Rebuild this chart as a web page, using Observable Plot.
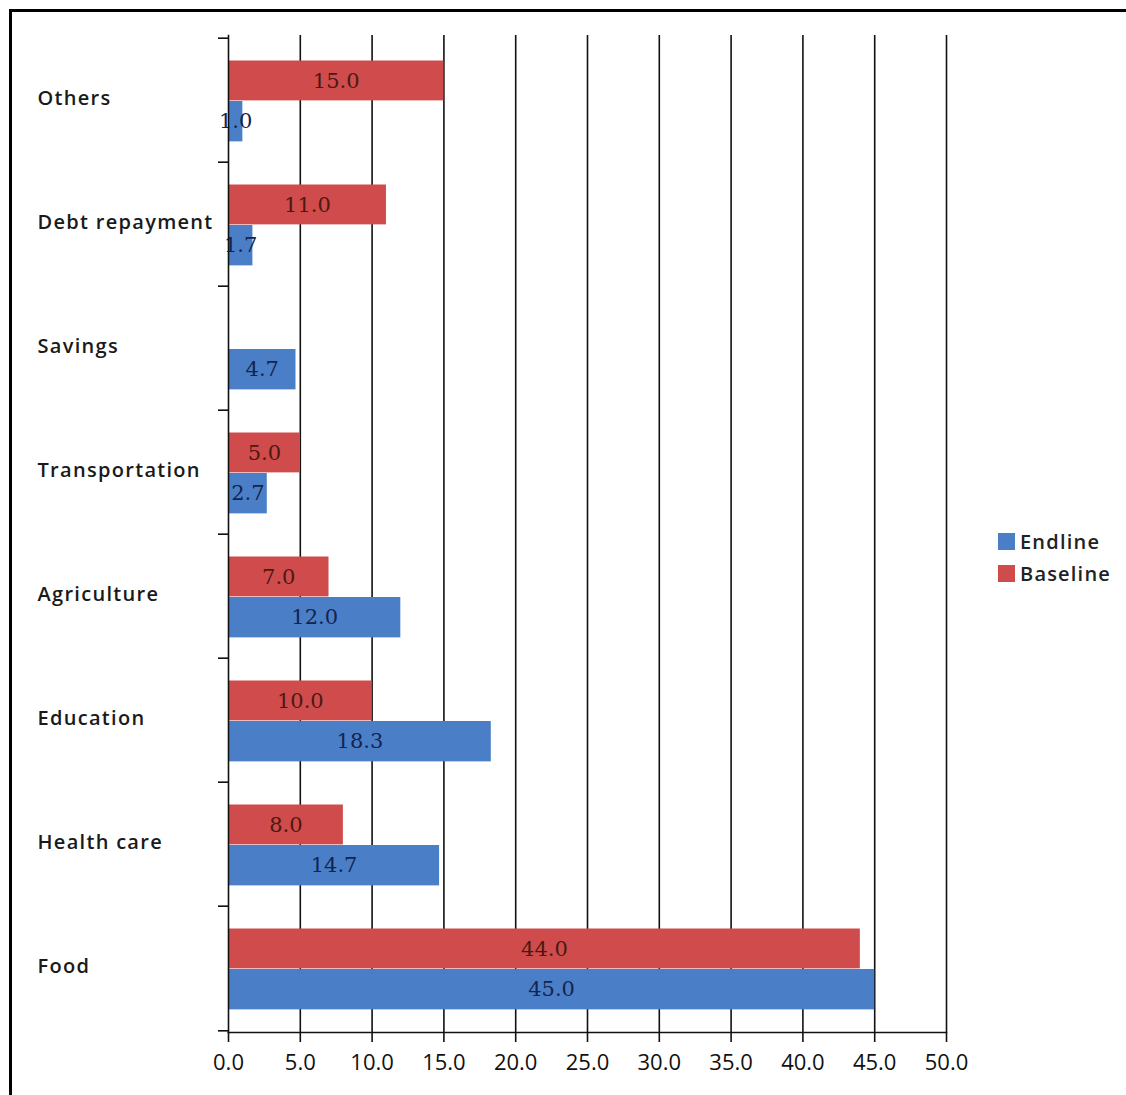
<!DOCTYPE html>
<html>
<head>
<meta charset="utf-8">
<script src="https://cdn.jsdelivr.net/npm/d3@7"></script>
<script src="https://cdn.jsdelivr.net/npm/@observablehq/plot@0.6"></script>
<style>
  html, body { margin: 0; padding: 0; background: #fff; }
  #wrap { position: relative; width: 1126px; height: 1095px; overflow: hidden; }
  #frame { position: absolute; left: 9px; top: 9px; right: -10px; bottom: -10px;
           border-left: 3px solid #000; border-top: 3px solid #000; pointer-events: none; }
  #legend { position: absolute; left: 998px; top: 525px; font-family: "Open Sans", sans-serif;
            font-size: 20px; font-weight: 600; color: #222; letter-spacing: 1.2px; }
  #legend div { display: flex; align-items: center; height: 32px; }
  #legend span.sw { display: inline-block; width: 17px; height: 17px; margin-right: 5px; }
  .cat-label text { letter-spacing: 1.3px; }
</style>
</head>
<body>
<div id="wrap">
  <div id="chart"></div>
  <div id="legend"></div>
  <div id="frame"></div>
</div>
<script>
// Spending categories, top to bottom
const categories = ["Others", "Debt repayment", "Savings", "Transportation",
                    "Agriculture", "Education", "Health care", "Food"];
// Share of spending (%) per survey round; Savings had no baseline value
const baseline = [15.0, 11.0, null, 5.0, 7.0, 10.0, 8.0, 44.0];
const endline  = [1.0, 1.7, 4.7, 2.7, 12.0, 18.3, 14.7, 45.0];
const series = ["Endline", "Baseline"];
const colors = {Endline: "#4a7fc8", Baseline: "#d04b4b"};
const xTicks = [0, 5, 10, 15, 20, 25, 30, 35, 40, 45, 50];

const W = 1126, H = 1095;
const mTop = 35, mBottom = 63, mLeft = 228, mRight = 180;
const band = (H - mTop - mBottom) / categories.length;

const baseRows = categories.map((c, i) => ({category: c, value: baseline[i], series: "Baseline"}))
  .filter(d => d.value != null);
const endRows = categories.map((c, i) => ({category: c, value: endline[i], series: "Endline"}));

const fmt = v => v.toFixed(1);
const font = "'Open Sans', sans-serif";
const valueFont = "'DejaVu Serif', serif";

const chart = Plot.plot({
  width: W,
  height: H,
  marginTop: mTop,
  marginBottom: mBottom,
  marginLeft: mLeft,
  marginRight: mRight,
  style: {fontFamily: font, background: "transparent", color: "#111"},
  x: {domain: [0, 50]},
  y: {domain: categories, padding: 0, axis: null},
  marks: [
    // vertical gridlines
    Plot.ruleX(xTicks.slice(1), {stroke: "#111", strokeWidth: 1.6}),
    // bars
    Plot.barX(baseRows, {x: "value", y: "category", fill: colors.Baseline,
      insetTop: 22.5, insetBottom: band - 63}),
    Plot.barX(endRows, {x: "value", y: "category", fill: colors.Endline,
      insetTop: 63, insetBottom: band - 104}),
    // value labels centred in each bar
    Plot.text(baseRows, {x: d => d.value / 2, y: "category", text: d => fmt(d.value),
      dy: (22.5 + 63) / 2 - band / 2, fill: "#4a1a12", fontSize: 21,
      fontFamily: valueFont}),
    Plot.text(endRows, {x: d => d.value / 2, y: "category", text: d => fmt(d.value),
      dy: (63 + 104) / 2 - band / 2, fill: "#14244e", fontSize: 21,
      fontFamily: valueFont}),
    // axis lines
    Plot.frame({anchor: "left", stroke: "#111", strokeWidth: 1.6}),
    Plot.frame({anchor: "bottom", stroke: "#111", strokeWidth: 1.6}),
    // category boundary ticks on the y axis
    Plot.ruleY(categories, {y: d => d, x1: 0, x2: 0, insetLeft: -10, dy: -band / 2,
      stroke: "#111", strokeWidth: 1.6}),
    Plot.ruleY(categories.slice(-1), {y: d => d, x1: 0, x2: 0, insetLeft: -10, dy: band / 2,
      stroke: "#111", strokeWidth: 1.6}),
    // category labels, left aligned
    Plot.text(categories, {y: d => d, frameAnchor: "left", dx: 37 - mLeft, dy: -2,
      textAnchor: "start", text: d => d, fontSize: 20, fontWeight: 600, fill: "#1a1a1a",
      className: "cat-label"}),
    Plot.axisX({ticks: xTicks, tickFormat: fmt, tickSize: 10, tickPadding: 12,
      fontSize: 22, stroke: "#111", strokeWidth: 1.6, fill: "#111", label: null})
  ]
});
document.getElementById("chart").appendChild(chart);

// legend
const legend = document.getElementById("legend");
for (const s of series) {
  const row = document.createElement("div");
  const sw = document.createElement("span");
  sw.className = "sw";
  sw.style.background = colors[s];
  row.appendChild(sw);
  row.appendChild(document.createTextNode(s));
  legend.appendChild(row);
}
</script>
</body>
</html>
